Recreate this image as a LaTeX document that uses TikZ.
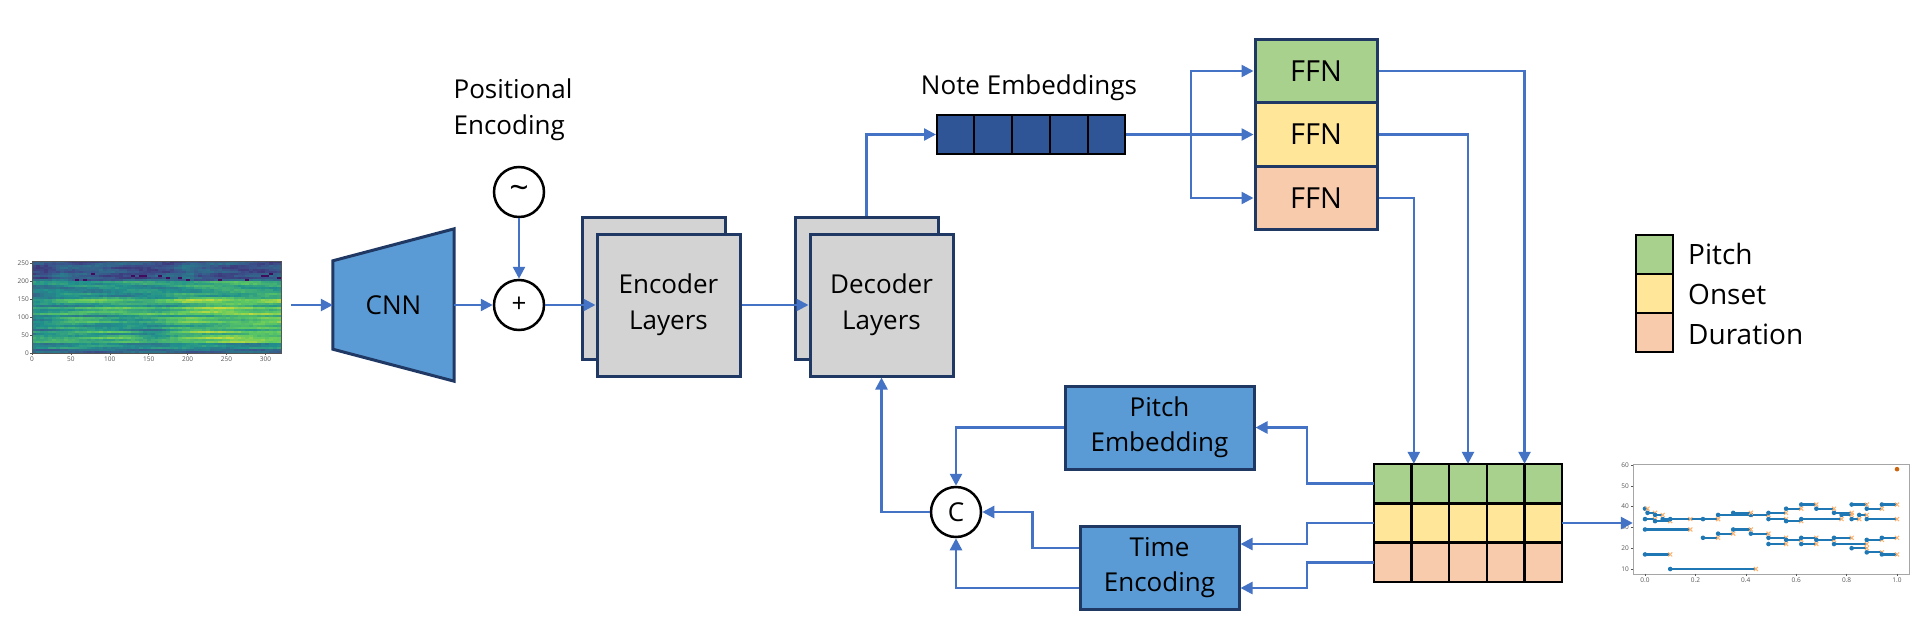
\documentclass[tikz,border=0pt]{standalone}
\usepackage{fontspec}
\setmainfont{Open Sans}
\usetikzlibrary{arrows.meta,calc}
\definecolor{conncol}{HTML}{4472C4}
\definecolor{navy}{HTML}{1F3864}
\definecolor{boxblue}{HTML}{5B9BD5}
\definecolor{boxgray}{HTML}{D3D3D3}
\definecolor{embblue}{HTML}{2F5597}
\definecolor{cgreen}{HTML}{A9D18E}
\definecolor{cyellow}{HTML}{FFE699}
\definecolor{cpeach}{HTML}{F8CBAD}
\definecolor{vA}{HTML}{440154}
\definecolor{vB}{HTML}{3B528B}
\definecolor{vC}{HTML}{21918C}
\definecolor{vD}{HTML}{5EC962}
\definecolor{vE}{HTML}{FDE725}
\definecolor{mplblue}{HTML}{1F77B4}
\definecolor{mplorange}{HTML}{FF7F0E}
\definecolor{axisgray}{HTML}{555555}
\newcommand{\setvir}[1]{%
  \pgfmathsetmacro{\sgt}{max(0,min(0.999,#1))}%
  \pgfmathtruncatemacro{\sgs}{\sgt*4}%
  \pgfmathsetmacro{\sgp}{(\sgt*4-\sgs)*100}%
  \ifcase\sgs\relax\colorlet{vc}{vB!\sgp!vA}\or\colorlet{vc}{vC!\sgp!vB}\or\colorlet{vc}{vD!\sgp!vC}\or\colorlet{vc}{vE!\sgp!vD}\fi}
\tikzset{
  arr/.style={draw=conncol, line width=2.5pt, -{Triangle[length=12pt,width=12pt]}},
  plainline/.style={draw=conncol, line width=2.5pt},
  bluebox/.style={draw=navy, line width=3pt, fill=boxblue, align=center, inner sep=0pt,
     font=\fontsize{26}{35}\selectfont},
  graybox/.style={draw=navy, line width=3pt, fill=boxgray, align=center, inner sep=0pt,
     minimum width=143pt, minimum height=142pt, font=\fontsize{26}{36}\selectfont},
  ffnbox/.style={draw=navy, line width=3pt, inner sep=0pt, minimum width=122pt,
     minimum height=63.5pt, font=\fontsize{29}{34}\selectfont},
  opcircle/.style={circle, draw=black, line width=2.5pt, fill=white, minimum size=50pt,
     inner sep=0pt, font=\fontsize{26}{30}\selectfont},
  lgbox/.style={draw=black, line width=2pt, minimum width=37pt, minimum height=39pt, inner sep=0pt},
  lgtext/.style={anchor=west, inner sep=0pt, font=\fontsize{28}{32}\selectfont},
  ticklab/.style={inner sep=0pt, text=axisgray, font=\fontsize{6.5}{7}\selectfont},
  emptyframe/.style={draw=none, inner sep=0pt}
}
\begin{document}
\begin{tikzpicture}[x=1pt, y=-1pt]
\useasboundingbox (0,0) rectangle (1920,640);
\fill[white] (0,0) rectangle (1920,640);

% ---------------- spectrogram ----------------
\node[emptyframe, minimum width=276pt, minimum height=110pt] (spec) at (153,310) {};
\pgfmathsetseed{42}
\foreach \r in {0,...,45}{
  \pgfmathsetmacro{\sgrow}{rnd}
  \pgfmathsetmacro{\sgph}{360*rnd}
  \foreach \c in {0,...,62}{
    \pgfmathsetmacro{\sgr}{0.12/(1+exp(max(-8,min(8,-(\c-36)/2.5)))) - 0.1/(1+exp(max(-8,min(8,(\c-5)/1.5))))}
    \pgfmathsetmacro{\sga}{0.08*exp(-min(8,((\c-7)/2)^2)) + 0.08*exp(-min(8,((\c-39)/1.5)^2))}
    \pgfmathsetmacro{\sgd}{0.12*exp(-min(8,((\c-30)/4)^2))*(\r>30)}
    \pgfmathsetmacro{\sgb}{\r<10 ? (0.28 + \sga) : (\r<18 ? (0.5+\sgr*0.8) : (\r<41 ? (0.6 + \sgr - \sgd) : 0.42))}
    \pgfmathsetmacro{\sgv}{\sgb + (\r<10 ? 0.08 : 0.26)*(\sgrow-0.5) + 0.07*sin(\c*14+\sgph) + 0.07*(rnd-0.5)}
    \pgfmathsetmacro{\sgv}{(\r>5 && \r<10 && rnd<0.07) ? 0.03 : \sgv}
    \setvir{\sgv}
    \fill[vc] ({32+\c*3.952},{261+\r*2}) rectangle ++(4.2,2.2);
  }
}
\draw[axisgray, line width=0.6pt] (32,261) rectangle (281,353);
\foreach \v in {0,50,...,250}{
  \draw[axisgray, line width=0.5pt] (32,{353-\v/256*92}) -- ++(-2,0);
  \node[ticklab, anchor=east] (sy\v) at (29,{353-\v/256*92}) {\v};
}
\foreach \v in {0,50,...,300}{
  \draw[axisgray, line width=0.5pt] ({32+\v/320*249},353) -- ++(0,2);
  \node[ticklab, anchor=north] (sx\v) at ({32+\v/320*249},357) {\v};
}

% ---------------- CNN ----------------
\node[emptyframe, minimum width=121pt, minimum height=152pt] (cnn) at (393.5,305) {};
\draw[navy, line width=3pt, fill=boxblue, line join=miter]
  ($(cnn.north west)+(0,32)$) -- (cnn.north east) -- (cnn.south east) -- ($(cnn.south west)+(0,-32)$) -- cycle;
\node[inner sep=0pt, font=\fontsize{26}{30}\selectfont] (cnntext) at (cnn.center) {CNN};

% ---------------- positional encoding ----------------
\node[align=left, inner sep=0pt, font=\fontsize{26}{36}\selectfont] (pelabel) at (513,110) {Positional\\Encoding};
\node[opcircle, font=\fontsize{34}{36}\selectfont] (pe) at (519,192) {\textasciitilde};
\node[opcircle] (add) at (519,305) {+};

% ---------------- encoder / decoder ----------------
\node[graybox] (encb) at (653.5,288) {};
\node[graybox] (enc) at (668.5,305) {Encoder\\Layers};
\node[graybox] (decb) at (866.5,288) {};
\node[graybox] (dec) at (881.5,305) {Decoder\\Layers};

% ---------------- note embeddings ----------------
\node[inner sep=0pt, font=\fontsize{26}{30}\selectfont] (notelabel) at (1029,88) {Note Embeddings};
\node[draw=black, line width=2pt, fill=embblue, minimum width=188pt, minimum height=39pt, inner sep=0pt] (note) at (1031,134.5) {};
\foreach \k in {1,...,4}{
  \draw[black, line width=2pt] ($(note.north west)!\k/5!(note.north east)$) -- ($(note.south west)!\k/5!(note.south east)$);
}

% ---------------- FFN ----------------
\node[ffnbox, fill=cgreen] (ffn1) at (1316,71) {FFN};
\node[ffnbox, fill=cyellow] (ffn2) at (1316,134.5) {FFN};
\node[ffnbox, fill=cpeach] (ffn3) at (1316,198) {FFN};

% ---------------- legend ----------------
\node[lgbox, fill=cgreen] (lg1) at (1654.5,254.5) {};
\node[lgbox, fill=cyellow] (lg2) at (1654.5,293.5) {};
\node[lgbox, fill=cpeach] (lg3) at (1654.5,332.5) {};
\node[lgtext] (lgt1) at (1688,254) {Pitch};
\node[lgtext] (lgt2) at (1688,294) {Onset};
\node[lgtext] (lgt3) at (1688,334) {Duration};

% ---------------- output grid ----------------
\node[emptyframe, minimum width=188pt, minimum height=118pt] (grid) at (1468,523) {};
\fill[cgreen] (grid.north west) rectangle ($(grid.north east)!1/3!(grid.south east)$);
\fill[cyellow] ($(grid.north west)!1/3!(grid.south west)$) rectangle ($(grid.north east)!2/3!(grid.south east)$);
\fill[cpeach] ($(grid.north west)!2/3!(grid.south west)$) rectangle (grid.south east);
\foreach \k in {1,...,4}{
  \draw[black, line width=2.5pt] ($(grid.north west)!\k/5!(grid.north east)$) -- ($(grid.south west)!\k/5!(grid.south east)$);
}
\foreach \k in {1,2}{
  \draw[black, line width=2.5pt] ($(grid.north west)!\k/3!(grid.south west)$) -- ($(grid.north east)!\k/3!(grid.south east)$);
}
\draw[black, line width=2.5pt] (grid.north west) rectangle (grid.south east);
\coordinate (g1) at ($(grid.north west)!1/6!(grid.south west)$);
\coordinate (g2) at (grid.west);
\coordinate (g3) at ($(grid.north west)!5/6!(grid.south west)$);

% ---------------- embedding boxes + concat ----------------
\node[bluebox, minimum width=189pt, minimum height=83pt] (pemb) at (1159.5,427.5) {Pitch\\Embedding};
\node[bluebox, minimum width=159pt, minimum height=83pt] (temb) at (1159.5,567.5) {Time\\Encoding};
\node[opcircle] (cc) at (956,512) {C};

% ---------------- output plot ----------------
\node[emptyframe, minimum width=276pt, minimum height=110pt] (plot) at (1771,519) {};
\draw[gray!70, line width=0.8pt] (1633,464) rectangle (1909,574);
\foreach \v in {10,20,...,60}{
  \draw[axisgray, line width=0.5pt] (1633,{569-(\v-10)*2.08}) -- ++(-2,0);
  \node[ticklab, anchor=east] (py\v) at (1629,{569-(\v-10)*2.08}) {\v};
}
\foreach \v/\lab in {0/0.0,0.2/0.2,0.4/0.4,0.6/0.6,0.8/0.8,1/1.0}{
  \draw[axisgray, line width=0.5pt] ({1645+252*\v},574) -- ++(0,2);
  \node[ticklab, anchor=north] (px\lab) at ({1645+252*\v},578) {\lab};
}
\foreach \xa/\xb/\yv in {0/0.01/39,0.01/0.04/37,0.04/0.07/36,0/0.04/34,0.04/0.1/33,0.07/0.29/34,0.1/0.18/34,0.23/0.29/34,0/0.18/29,0/0.1/17,0.1/0.44/10,
  0.29/0.42/36,0.42/0.49/36,0.35/0.42/37,0.49/0.56/37,0.56/0.62/39,0.62/0.68/41,0.68/0.75/39,0.75/0.82/37,0.78/0.82/36,0.82/0.88/41,0.88/0.94/39,0.94/1.0/41,
  0.49/0.56/34,0.56/0.62/33,0.62/0.78/34,0.82/0.85/34,0.88/1.0/34,0.85/0.88/36,
  0.23/0.29/25,0.29/0.35/27,0.35/0.42/29,0.42/0.49/27,0.49/0.56/25,0.56/0.62/24,0.62/0.68/25,0.68/0.75/24,0.75/0.82/25,
  0.49/0.56/22,0.62/0.68/22,0.75/0.88/22,0.82/0.88/20,0.88/0.94/18,0.94/1.0/17,0.88/0.94/24,0.94/1.0/25}{
  \draw[mplblue, line width=2.2pt] ({1645+252*\xa},{569-(\yv-10)*2.08}) -- ({1645+252*\xb},{569-(\yv-10)*2.08});
  \fill[mplblue] ({1645+252*\xa},{569-(\yv-10)*2.08}) circle (2.3);
  \draw[mplorange!60, line width=1pt] ({1645+252*\xb-2},{569-(\yv-10)*2.08-2}) -- ++(4,4) ({1645+252*\xb-2},{569-(\yv-10)*2.08+2}) -- ++(4,-4);
}
\fill[mplorange!80!black] (1897,{569-48*2.08}) circle (2.3);

% ---------------- connectors ----------------
\draw[arr] (spec.east |- cnn.west) -- (cnn.west);
\draw[arr] (cnn.east) -- (add.west);
\draw[arr] (pe.south) -- (add.north);
\draw[arr] (add.east) -- (enc.west);
\draw[arr] (enc.east) -- (dec.west);
\draw[arr] (decb.north) |- (note.west);
\coordinate (br) at ($(note.east)+(65,0)$);
\draw[plainline] (note.east) -- (br);
\draw[arr] (br) |- (ffn1.west);
\draw[arr] (br) -- (ffn2.west);
\draw[arr] (br) |- (ffn3.west);
\draw[arr] (ffn1.east) -| ($(grid.north west)!0.8!(grid.north east)$);
\draw[arr] (ffn2.east) -| (grid.north);
\draw[arr] (ffn3.east) -| ($(grid.north west)+(40,0)$);
\draw[arr] (grid.east) -- (grid.east -| plot.west);
\draw[arr] (g1) -- ++(-67,0) |- (pemb.east);
\draw[arr] (g2) -- ++(-67,0) |- ([yshift=23.5pt]temb.east);
\draw[arr] (g3) -- ++(-67,0) |- ([yshift=-20.5pt]temb.east);
\draw[arr] (pemb.west) -| (cc.north);
\coordinate (tj) at ($(cc.east)+(50,0)$);
\draw[arr] ([yshift=19.5pt]temb.west) -| (tj) -- (cc.east);
\draw[arr] ([yshift=-20.5pt]temb.west) -| (cc.south);
\draw[arr] (cc.west) -| (dec.south);
\end{tikzpicture}
\end{document}
